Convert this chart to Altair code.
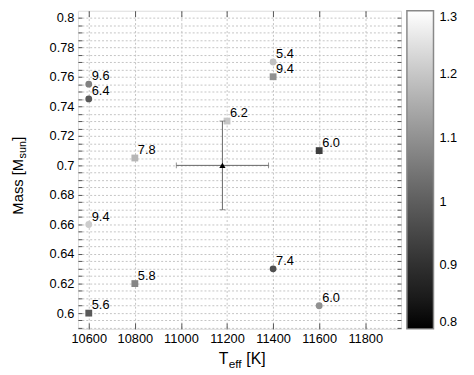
import altair as alt
import pandas as pd

# ---- data ----
teff = [10600, 10600, 10800, 11200, 11400, 11400, 11600, 10600, 10800, 10600, 11400, 11600]
mass = [0.755, 0.745, 0.705, 0.730, 0.770, 0.760, 0.710, 0.660, 0.620, 0.600, 0.630, 0.605]
kind = ["circle", "circle", "square", "square", "circle", "square", "square",
        "circle", "square", "square", "circle", "circle"]
cval = [1.07, 0.99, 1.17, 1.20, 1.19, 1.10, 0.93, 1.21, 1.08, 0.99, 0.97, 1.10]
labels = ["9.6", "6.4", "7.8", "6.2", "5.4", "9.4", "6.0", "9.4", "5.8", "5.6", "7.4", "6.0"]

obs_teff = [11180]
obs_teff_err = [200]
obs_mass = [0.70]
obs_mass_err = [0.03]

x_ticks = [10600, 10800, 11000, 11200, 11400, 11600, 11800]
y_ticks = [round(0.59 + 0.005 * i, 3) for i in range(44)]
legend_ticks = [0.8, 0.9, 1.0, 1.1, 1.2, 1.3]

x_domain = [10553, 11955]
y_domain = [0.58933, 0.80467]
c_domain = [0.8, 1.3]

df = pd.DataFrame({"teff": teff, "mass": mass, "kind": kind, "c": cval, "lab": labels})
obs = pd.DataFrame({
    "teff": obs_teff, "mass": obs_mass,
    "tlo": [t - e for t, e in zip(obs_teff, obs_teff_err)],
    "thi": [t + e for t, e in zip(obs_teff, obs_teff_err)],
    "mlo": [m - e for m, e in zip(obs_mass, obs_mass_err)],
    "mhi": [m + e for m, e in zip(obs_mass, obs_mass_err)],
})

FONT = "Liberation Sans"
xs = alt.Scale(domain=x_domain, nice=False, zero=False)
ys = alt.Scale(domain=y_domain, nice=False, zero=False)

grid_kw = dict(grid=True, gridDash=[2, 2], gridColor="#c4c4c4", gridWidth=1)

points = alt.Chart(df).mark_point(filled=True, opacity=1, size=48).encode(
    x=alt.X("teff:Q", scale=xs,
            axis=alt.Axis(orient="bottom", values=x_ticks, format="d", tickSize=6, offset=-6,
                          labelPadding=4, domain=False, title=None, tickColor="#555",
                          labelFontSize=13, labelFont=FONT, labelColor="#000", **grid_kw)),
    y=alt.Y("mass:Q", scale=ys,
            axis=alt.Axis(orient="left", values=y_ticks, tickSize=4, offset=-4,
                          labelExpr="abs(datum.value*50 - round(datum.value*50)) < 0.001 ? format(datum.value, '.2~f') : ''",
                          labelPadding=4, domain=False, title=None, tickColor="#555",
                          labelFontSize=13, labelFont=FONT, labelColor="#000", **grid_kw)),
    shape=alt.Shape("kind:N", scale=alt.Scale(domain=["circle", "square"], range=["circle", "square"]), legend=None),
    color=alt.Color("c:Q", scale=alt.Scale(domain=c_domain, range=["#000000", "#ffffff"]),
                    legend=alt.Legend(orient="none", legendX=334, legendY=0, title=None,
                                      gradientLength=323, gradientThickness=27,
                                      gradientStrokeColor="#888", gradientStrokeWidth=1.5,
                                      values=legend_ticks, format="~g", labelFontSize=13,
                                      labelFont=FONT, labelColor="#000", labelOffset=6,
                                      labelBaseline="middle",
                                      padding=0, labelOverlap=False, direction="vertical")),
)

frame_axes = alt.Chart(df).mark_point(opacity=0).encode(
    x=alt.X("teff:Q", scale=xs,
            axis=alt.Axis(orient="top", values=x_ticks, labels=False, tickSize=6, offset=-6,
                          grid=False, domain=False, title=None, tickColor="#555")),
    y=alt.Y("mass:Q", scale=ys,
            axis=alt.Axis(orient="right", values=y_ticks, labels=False, tickSize=4, offset=-4,
                          grid=False, domain=False, title=None, tickColor="#555")),
)

texts = alt.Chart(df).mark_text(align="left", baseline="alphabetic", dx=3, dy=-4,
                                fontSize=13, font=FONT, color="#000").encode(
    x=alt.X("teff:Q", scale=xs, axis=None),
    y=alt.Y("mass:Q", scale=ys, axis=None),
    text="lab:N",
)

ebar_col = "#666"
hbar = alt.Chart(obs).mark_rule(color=ebar_col, strokeWidth=1).encode(
    x=alt.X("tlo:Q", scale=xs, axis=None), x2="thi:Q", y=alt.Y("mass:Q", scale=ys, axis=None))
vbar = alt.Chart(obs).mark_rule(color=ebar_col, strokeWidth=1).encode(
    x=alt.X("teff:Q", scale=xs, axis=None), y=alt.Y("mlo:Q", scale=ys, axis=None), y2="mhi:Q")
hcap_lo = alt.Chart(obs).mark_tick(orient="vertical", color=ebar_col, size=6, thickness=1).encode(
    x=alt.X("tlo:Q", scale=xs, axis=None), y=alt.Y("mass:Q", scale=ys, axis=None))
hcap_hi = alt.Chart(obs).mark_tick(orient="vertical", color=ebar_col, size=6, thickness=1).encode(
    x=alt.X("thi:Q", scale=xs, axis=None), y=alt.Y("mass:Q", scale=ys, axis=None))
vcap_lo = alt.Chart(obs).mark_tick(orient="horizontal", color=ebar_col, size=6, thickness=1).encode(
    x=alt.X("teff:Q", scale=xs, axis=None), y=alt.Y("mlo:Q", scale=ys, axis=None))
vcap_hi = alt.Chart(obs).mark_tick(orient="horizontal", color=ebar_col, size=6, thickness=1).encode(
    x=alt.X("teff:Q", scale=xs, axis=None), y=alt.Y("mhi:Q", scale=ys, axis=None))
tri = alt.Chart(obs).mark_point(shape="triangle-up", filled=True, color="#000", opacity=1, size=40).encode(
    x=alt.X("teff:Q", scale=xs, axis=None), y=alt.Y("mass:Q", scale=ys, axis=None))

one = pd.DataFrame({"a": [0]})
def label(txt, x, y, size=16, align="left", angle=0):
    return alt.Chart(one).mark_text(text=txt, align=align, baseline="alphabetic", fontSize=size,
                                    font=FONT, color="#000", angle=angle).encode(
        x=alt.value(x), y=alt.value(y))

titles = [
    label("T", 143, 359),
    label("eff", 153, 363, size=12),
    label("[K]", 171, 359),
    label("Mass [M", -56, 207, size=15, angle=270),
    label("sun", -53, 150, size=11, angle=270),
    label("]", -56, 132, size=15, angle=270),
]

chart = alt.layer(points, frame_axes, texts, hbar, vbar, hcap_lo, hcap_hi, vcap_lo, vcap_hi, tri,
                  *titles).resolve_axis(x="independent", y="independent").properties(
    width=328, height=323,
    padding={"left": 71, "top": 0, "right": 66, "bottom": 42},
    autosize=alt.AutoSizeParams(type="none"),
).configure_view(stroke="#555", strokeWidth=2).configure(font=FONT)

chart.save("out.html", embed_options={"renderer": "svg", "actions": False})
